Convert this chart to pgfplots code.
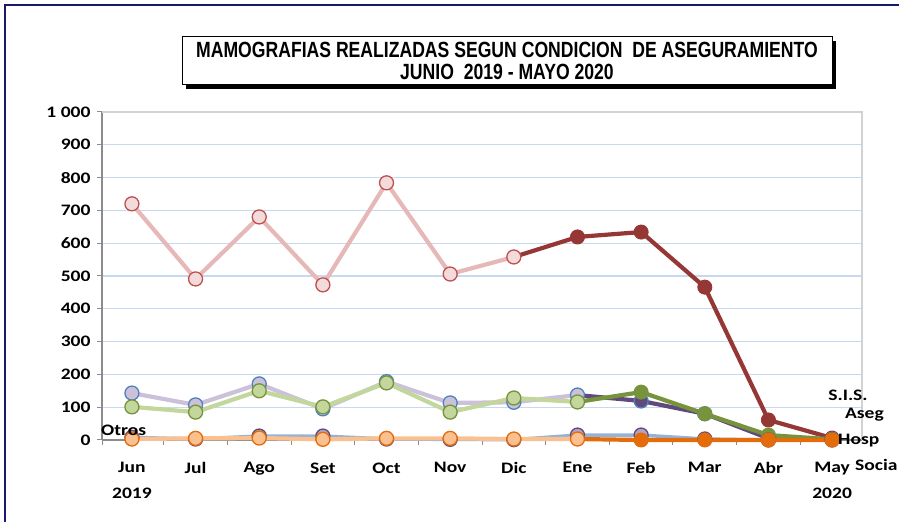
\documentclass[border=0pt]{standalone}
\usepackage{pgfplots}
\pgfplotsset{compat=1.18}
\usepackage{fontspec}
\setmainfont{Carlito}[FakeStretch=1.22]
\newfontfamily\titlefont{Liberation Sans}[FakeStretch=0.80]
\definecolor{navy}{RGB}{25,25,110}
\definecolor{gridc}{RGB}{198,217,241}
\definecolor{redL}{RGB}{230,185,184}
\definecolor{redF}{RGB}{242,220,219}
\definecolor{redO}{RGB}{192,80,77}
\definecolor{redD}{RGB}{149,55,53}
\definecolor{purL}{RGB}{204,193,218}
\definecolor{purD}{RGB}{96,74,123}
\definecolor{blueO}{RGB}{79,129,189}
\definecolor{blueL}{RGB}{149,179,215}
\definecolor{purM}{RGB}{179,162,199}
\definecolor{grnL}{RGB}{195,214,155}
\definecolor{grnD}{RGB}{119,147,60}
\definecolor{orgL}{RGB}{250,192,144}
\definecolor{orgD}{RGB}{228,108,10}
\begin{document}
\begin{tikzpicture}[x=1bp,y=1bp]
\path[use as bounding box] (0,0) rectangle (899,522);
\draw[navy, line width=1.6bp] (5,0) -- (5,517) -- (899,517);
% title box
\fill[black] (186,433) rectangle (836,481);
\draw[black, line width=1bp, fill=white] (182,437) rectangle (832,485);
\node[align=center, font=\titlefont\bfseries\fontsize{22bp}{22bp}\selectfont] at (507,461)
  {MAMOGRAFIAS REALIZADAS SEGUN CONDICION \ DE ASEGURAMIENTO\\JUNIO \ 2019 - MAYO 2020};
\begin{axis}[
  at={(102bp,82bp)}, anchor=south west, scale only axis,
  width=760bp, height=328bp,
  xmin=-0.47, xmax=11.47, ymin=0, ymax=1000,
  axis lines=left, axis line style={-, draw=gray!90, line width=1.2bp},
  ytick={0,100,...,1000},
  yticklabels={0,100,200,300,400,500,600,700,800,900,1 000},
  ymajorgrids, grid style={gridc, line width=1.2bp},
  tick align=outside, major tick length=5bp,
  tick style={gray!90, line width=1bp},
  xtick={-0.47,0.5,1.5,...,10.5},
  xticklabels={},
  extra x ticks={0,1,...,11},
  extra x tick labels={Jun\\2019,Jul,Ago,Set,Oct,Nov,Dic,Ene,Feb,Mar,Abr,May\\2020},
  extra x tick style={major tick length=0pt, tick label style={align=center, yshift=-19bp}},
  extra tick style={grid=none},
  /pgf/number format/assume math mode=true,
  tick label style={font=\bfseries\fontsize{16bp}{26bp}\selectfont},
  yticklabel style={xshift=-3bp},
  clip=false,
  every axis plot/.append style={line width=4.2bp},
]
\draw[gray!35, line width=1.2bp] (rel axis cs:0,1) -- (rel axis cs:1,1) -- (rel axis cs:1,0);
% S.I.S. (red)
\addplot[redD, mark=*, mark indices={2,3,4,5,6}, mark options={fill=redD, draw=redD, line width=1bp}, mark size=7bp]
 coordinates {(6,558)(7,619)(8,634)(9,466)(10,61)(11,6)};
\addplot[redL, mark=*, mark options={fill=redF, draw=redO, line width=1.3bp}, mark size=7bp]
 coordinates {(0,720)(1,491)(2,680)(3,473)(4,784)(5,506)(6,558)};
% purple
\addplot[purD, mark=*, mark indices={2,3,4,5}, mark options={fill=purD, draw=blueO, line width=1.3bp}, mark size=7bp]
 coordinates {(7,137)(8,119)(9,80)(10,5)(11,2)};
\addplot[purL, mark=*, mark options={fill=purL, draw=blueO, line width=1.3bp}, mark size=7bp]
 coordinates {(0,143)(1,107)(2,171)(3,95)(4,178)(5,113)(6,115)(7,137)};
% green
\addplot[grnD, mark=*, mark indices={2,3,4,5}, mark options={fill=grnD, draw=grnD, line width=1bp}, mark size=7bp]
 coordinates {(7,116)(8,146)(9,80)(10,15)(11,2)};
\addplot[grnL, mark=*, mark options={fill=grnL, draw=grnD, line width=1.3bp}, mark size=7bp]
 coordinates {(0,101)(1,85)(2,150)(3,101)(4,174)(5,85)(6,128)(7,116)};
% Otros (blue)
\addplot[blueL, line width=3.5bp, mark=*, mark options={fill=purM, draw=purD, line width=1.3bp}, mark size=7bp]
 coordinates {(0,8)(1,3)(2,12)(3,12)(4,3)(5,2)(6,1)(7,15)(8,15)(9,3)(10,0)(11,0)};
% orange
\addplot[orgD, mark=*, mark indices={2,3,4,5}, mark options={fill=orgD, draw=orgD, line width=1bp}, mark size=7bp]
 coordinates {(7,3)(8,0)(9,0)(10,0)(11,0)};
\addplot[orgL, mark=*, mark options={fill=orgL, draw=orgD, line width=1.3bp}, mark size=7bp]
 coordinates {(0,3)(1,5)(2,6)(3,2)(4,5)(5,5)(6,3)(7,3)};
\end{axis}
\begin{scope}[every node/.style={font=\bfseries\fontsize{16bp}{19bp}\selectfont, inner sep=0pt}]
\node at (848,127) {S.I.S.};
\node[anchor=east] at (884,107) {Aseg};
\node[anchor=west] at (838,81) {Hosp};
\node[anchor=west] at (855,57) {Socia};
\node[anchor=west] at (101,92) {Otros};
\end{scope}
\end{tikzpicture}
\end{document}
